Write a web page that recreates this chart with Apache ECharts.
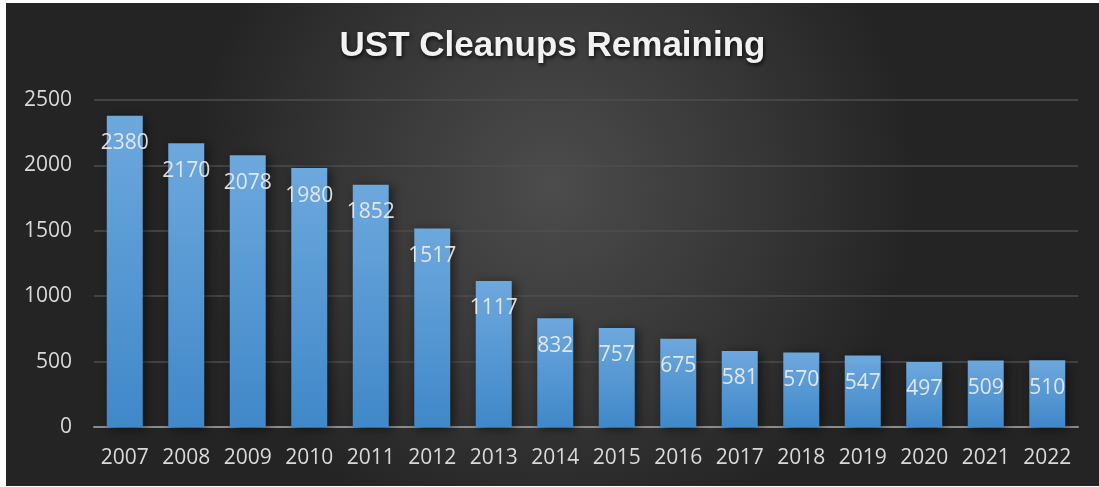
<!DOCTYPE html>
<html>
<head>
<meta charset="utf-8">
<script src="https://cdn.jsdelivr.net/npm/echarts@6/dist/echarts.min.js"></script>
<style>
html,body{margin:0;padding:0;background:#fff;width:1099px;height:487px;overflow:hidden;}
#c{position:absolute;left:6px;top:3px;width:1093px;height:483px;}
</style>
</head>
<body>
<div id="c"></div>
<script>
const titleText = "UST Cleanups Remaining";
const years = ["2007","2008","2009","2010","2011","2012","2013","2014","2015","2016","2017","2018","2019","2020","2021","2022"];
const remaining = [2380,2170,2078,1980,1852,1517,1117,832,757,675,581,570,547,497,509,510];
const yMin = 0, yMax = 2500, yStep = 500;

const chart = echarts.init(document.getElementById('c'), null, {renderer:'canvas'});
chart.setOption({
  animation:false,
  backgroundColor:{
    type:'radial', x:0.5, y:0.38, r:0.75,
    colorStops:[{offset:0,color:'#4c4c4c'},{offset:0.6,color:'#353535'},{offset:1,color:'#242424'}]
  },
  title:{
    text:titleText, left:'center', top:21,
    textStyle:{color:'#f2f2f2', fontFamily:'Liberation Sans', fontWeight:'bold', fontSize:35,
      textShadowColor:'rgba(0,0,0,0.8)', textShadowBlur:4, textShadowOffsetX:1, textShadowOffsetY:2}
  },
  grid:{left:88, right:21, top:97, bottom:59, containLabel:false},
  xAxis:{
    type:'category', data:years,
    axisLine:{show:true, lineStyle:{color:'#8c8c8c', width:2}},
    axisTick:{show:false},
    axisLabel:{color:'#d9d9d9', fontSize:21, fontFamily:'Open Sans', margin:21, interval:0, hideOverlap:false}
  },
  yAxis:{
    type:'value', min:yMin, max:yMax, interval:yStep,
    axisLine:{show:false}, axisTick:{show:false},
    splitLine:{lineStyle:{color:'#4e4e4e', width:1.5}},
    axisLabel:{color:'#d9d9d9', fontSize:21, fontFamily:'Open Sans', margin:22, formatter:function(v){return String(v);}}
  },
  series:[{
    type:'bar', data:remaining, barWidth:'58.5%',
    itemStyle:{
      color:{type:'linear',x:0,y:0,x2:0,y2:1,colorStops:[{offset:0,color:'#6da8dd'},{offset:1,color:'#4088c9'}]},
      shadowColor:'rgba(0,0,0,0.55)', shadowBlur:10, shadowOffsetX:3, shadowOffsetY:2
    },
    label:{show:true, position:'insideTop', distance:17, color:'rgba(235,235,235,0.92)', fontSize:21, fontFamily:'Open Sans'}
  }]
});
</script>
</body>
</html>
